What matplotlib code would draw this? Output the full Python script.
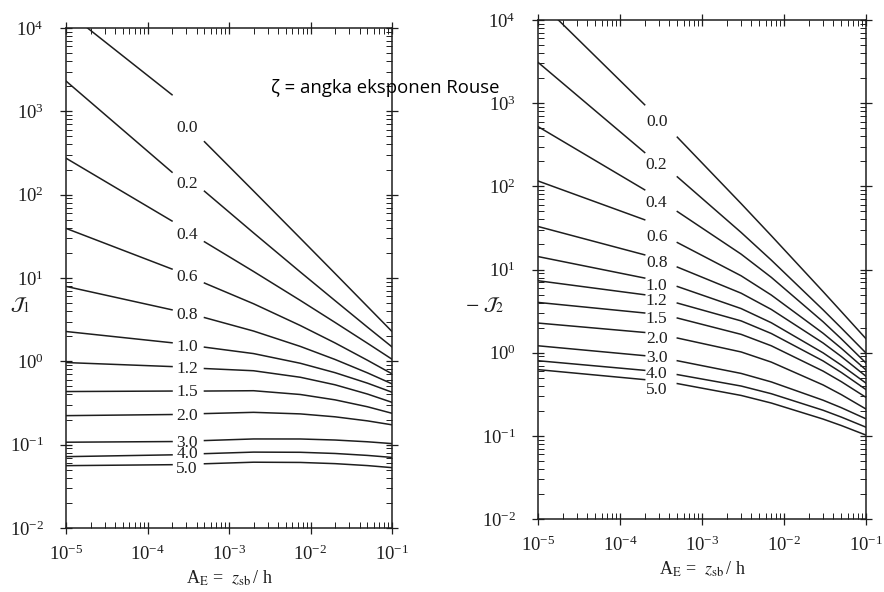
import matplotlib
matplotlib.use("Agg")
import matplotlib.pyplot as plt
from matplotlib.ticker import LogLocator, NullFormatter

# ---- data ----
zeta = ["0.0", "0.2", "0.4", "0.6", "0.8", "1.0", "1.2", "1.5", "2.0", "3.0", "4.0", "5.0"]

# left panel, J1 ; x = A_E
x_j1 = [1e-5, 2e-4, 5e-4, 2e-3, 7.5e-3, 2e-2, 5e-2, 1e-1]
j1_00 = [16000, 1580, 432, 110.7, 30, 11.34, 4.55, 2.28]
j1_02 = [2310, 186, 110, 34.8, 11.8, 5.35, 2.57, 1.49]
j1_04 = [274, 48.3, 27.2, 11.98, 5.38, 2.93, 1.648, 1.06]
j1_06 = [39.4, 12.8, 8.7, 4.91, 2.69, 1.663, 1.03, 0.708]
j1_08 = [7.93, 4.15, 3.35, 2.31, 1.51, 1.053, 0.727, 0.537]
j1_10 = [2.28, 1.67, 1.48, 1.239, 0.948, 0.731, 0.547, 0.426]
j1_12 = [0.967, 0.865, 0.82, 0.771, 0.644, 0.523, 0.405, 0.322]
j1_15 = [0.434, 0.44, 0.44, 0.444, 0.40, 0.345, 0.285, 0.238]
j1_20 = [0.223, 0.23, 0.236, 0.2443, 0.234, 0.2159, 0.193, 0.173]
j1_30 = [0.107, 0.109, 0.112, 0.1171, 0.117, 0.1137, 0.1083, 0.103]
j1_40 = [0.0718, 0.0755, 0.078, 0.0814, 0.081, 0.0784, 0.0743, 0.0703]
j1_50 = [0.056, 0.0575, 0.059, 0.0616, 0.0612, 0.0592, 0.0561, 0.053]
j1_lab_x = 3.05e-4
j1_lab_y = [628, 133, 32.5, 10.2, 3.55, 1.47, 0.80, 0.434, 0.223, 0.106, 0.078, 0.0515]

# right panel, -J2
x_j2 = [1e-5, 2e-4, 5e-4, 3e-3, 7e-3, 3e-2, 5e-2, 1e-1]
j2_00 = [17400, 957, 390, 62, 25.5, 5.42, 3.12, 1.47]
j2_02 = [3100, 255, 130, 27.9, 12.97, 3.27, 1.98, 0.99]
j2_04 = [523, 90.8, 49.8, 15.3, 8.05, 2.35, 1.466, 0.75]
j2_06 = [116, 39.6, 21.1, 8.4, 4.93, 1.71, 1.129, 0.62]
j2_08 = [32.9, 15.0, 10.7, 5.19, 3.31, 1.307, 0.899, 0.52]
j2_10 = [14.3, 7.89, 6.25, 3.39, 2.29, 0.994, 0.708, 0.43]
j2_12 = [7.33, 4.97, 3.95, 2.41, 1.70, 0.795, 0.578, 0.36]
j2_15 = [4.02, 3.0, 2.61, 1.66, 1.21, 0.60, 0.448, 0.29]
j2_20 = [2.27, 1.75, 1.50, 1.02, 0.77, 0.409, 0.313, 0.21]
j2_30 = [1.21, 0.92, 0.80, 0.563, 0.445, 0.268, 0.218, 0.16]
j2_40 = [0.80, 0.613, 0.545, 0.397, 0.321, 0.203, 0.168, 0.127]
j2_50 = [0.625, 0.474, 0.425, 0.306, 0.248, 0.159, 0.133, 0.102]
j2_lab_x = 2.8e-4
j2_lab_y = [595, 181, 63.4, 24.7, 12.0, 6.38, 4.22, 2.56, 1.47, 0.871, 0.56, 0.36]

j1_curves = [j1_00, j1_02, j1_04, j1_06, j1_08, j1_10, j1_12, j1_15, j1_20, j1_30, j1_40, j1_50]
j2_curves = [j2_00, j2_02, j2_04, j2_06, j2_08, j2_10, j2_12, j2_15, j2_20, j2_30, j2_40, j2_50]

plt.rcParams["font.family"] = ["Liberation Serif", "DejaVu Serif"]
plt.rcParams["mathtext.fontset"] = "stix"

ink = "#1e1e1e"
fig = plt.figure(figsize=(8.84, 5.92), dpi=100)
ax1 = fig.add_axes([66 / 884, 64 / 592, 326 / 884, 500 / 592])
ax2 = fig.add_axes([538 / 884, 73 / 592, 328 / 884, 499 / 592])


def draw_panel(ax, xs, curves, lab_x, lab_y):
    for k in range(len(curves)):
        ys = curves[k]
        # line is broken where the zeta label sits
        ax.plot(xs[:2], ys[:2], color=ink, lw=1.1)
        ax.plot(xs[2:], ys[2:], color=ink, lw=1.1)
        ax.text(lab_x, lab_y[k], zeta[k], ha="center", va="center", fontsize=12.5, color=ink)
    ax.set_xscale("log")
    ax.set_yscale("log")
    ax.set_xlim(1e-5, 1e-1)
    ax.set_ylim(1e-2, 1e4)
    ax.xaxis.set_major_locator(LogLocator(base=10, numticks=10))
    ax.yaxis.set_major_locator(LogLocator(base=10, numticks=10))
    ax.xaxis.set_minor_locator(LogLocator(base=10, subs=range(2, 10), numticks=20))
    ax.yaxis.set_minor_locator(LogLocator(base=10, subs=range(2, 10), numticks=20))
    ax.xaxis.set_minor_formatter(NullFormatter())
    ax.yaxis.set_minor_formatter(NullFormatter())
    ax.tick_params(which="major", direction="inout", length=8, width=0.9, colors=ink,
                   top=True, right=True, labelsize=13.5)
    ax.tick_params(which="minor", direction="in", length=4, width=0.7, colors=ink,
                   top=True, right=True)
    ax.tick_params(axis="x", which="major", pad=8)
    ax.tick_params(axis="y", which="major", pad=12)
    for s in ax.spines.values():
        s.set_color(ink)
        s.set_linewidth(1.1)
    ax.set_xlabel(r"A$_\mathrm{E}$ =  $z_\mathrm{sb}\,$/ h", fontsize=13, color=ink, labelpad=3)


draw_panel(ax1, x_j1, j1_curves, j1_lab_x, j1_lab_y)
draw_panel(ax2, x_j2, j2_curves, j2_lab_x, j2_lab_y)

ax1.set_ylabel(r"$\mathcal{J}_1$", rotation=0, fontsize=14, color=ink, va="center", ha="center")
ax1.yaxis.set_label_coords(-0.141, 0.446)
ax2.set_ylabel(r"$-\ \mathcal{J}_2$", rotation=0, fontsize=14, color=ink, va="center", ha="center")
ax2.yaxis.set_label_coords(-0.162, 0.429)

fig.text(271 / 884, 1 - 88 / 592, "\u03b6 = angka eksponen Rouse", fontsize=13.3,
         family=["Open Sans", "DejaVu Sans"], va="center", ha="left", color="black")

fig.savefig("out.png", dpi=100)
